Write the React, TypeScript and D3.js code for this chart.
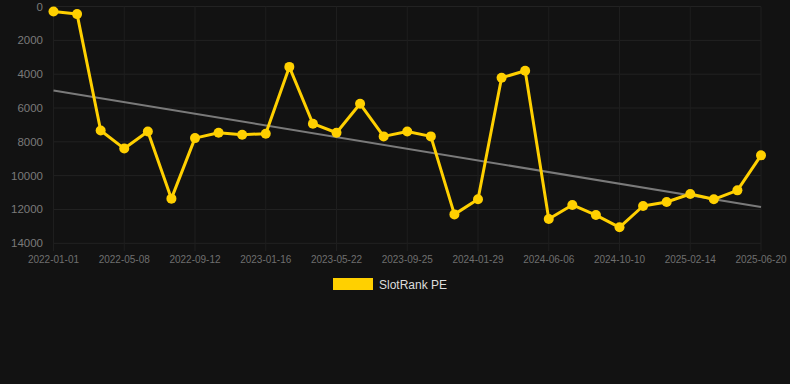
import React from "react";
import * as d3 from "d3";

const tickLabels = [
  "2022-01-01", "2022-05-08", "2022-09-12", "2023-01-16", "2023-05-22", "2023-09-25",
  "2024-01-29", "2024-06-06", "2024-10-10", "2025-02-14", "2025-06-20",
];
const rankValues = [
  300, 450, 7330, 8400, 7390, 11360, 7780, 7465, 7580, 7520, 3570, 6930, 7465, 5750, 7680,
  7395, 7680, 12290, 11400, 4215, 3800, 12560, 11735, 12330, 13055, 11795, 11560, 11085, 11400, 10870, 8800,
];
const trendValues = [4960, 11860];
const yTicks = [0, 2000, 4000, 6000, 8000, 10000, 12000, 14000];
const seriesName = "SlotRank PE";

export default function App() {
  const W = 790, H = 384;
  const x = d3.scaleLinear().domain([0, rankValues.length - 1]).range([53.5, 761]);
  const y = d3.scaleLinear().domain([0, 14000]).range([6.5, 243.3]);
  const line = d3.line<number>().x((_, i) => x(i)).y((d) => y(d));
  const tickIdx = tickLabels.map((_, i) => i * 3);
  const font = "Arial, 'Liberation Sans', sans-serif";
  return (
    <svg width={W} height={H} style={{ position: "absolute", left: 0, top: 0, background: "#121212" }}>
      <rect width={W} height={H} fill="#121212" />
      {yTicks.map((t) => (
        <g key={t}>
          <line x1={53.5} x2={761} y1={y(t)} y2={y(t)} stroke="#222222" strokeWidth={1} />
          <text x={43} y={y(t) + 4} fill="#7a7a7a" fontSize={11.5} fontFamily={font} textAnchor="end">
            {t}
          </text>
        </g>
      ))}
      {tickIdx.map((ti, k) => (
        <g key={ti}>
          <line x1={x(ti)} x2={x(ti)} y1={6.5} y2={251} stroke="#1e1e1e" strokeWidth={1} />
          <text x={x(ti)} y={263} fill="#6f6f6f" fontSize={10} fontFamily={font} textAnchor="middle">
            {tickLabels[k]}
          </text>
        </g>
      ))}
      <line
        x1={x(0)} x2={x(rankValues.length - 1)}
        y1={y(trendValues[0])} y2={y(trendValues[1])}
        stroke="#7a7a7a" strokeWidth={2}
      />
      <path d={line(rankValues) || ""} fill="none" stroke="#FFD000" strokeWidth={3} strokeLinejoin="round" />
      {rankValues.map((v, i) => (
        <circle key={i} cx={x(i)} cy={y(v)} r={5} fill="#FFD000" />
      ))}
      <rect x={333} y={278} width={40} height={12} fill="#FFD000" />
      <text x={379} y={288.5} fill="#dddddd" fontSize={12} fontFamily={font}>
        {seriesName}
      </text>
    </svg>
  );
}
